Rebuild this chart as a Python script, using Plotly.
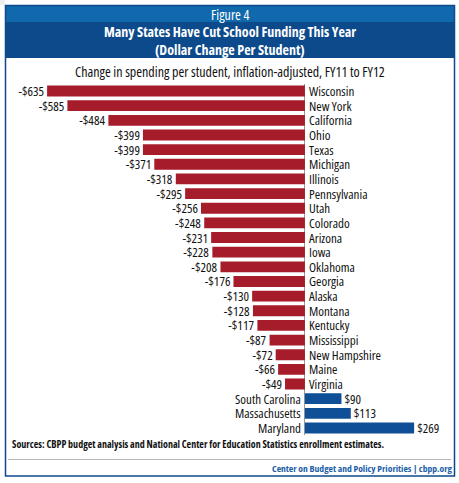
import plotly.graph_objects as go

states = ["Wisconsin", "New York", "California", "Ohio", "Texas", "Michigan", "Illinois",
          "Pennsylvania", "Utah", "Colorado", "Arizona", "Iowa", "Oklahoma", "Georgia",
          "Alaska", "Montana", "Kentucky", "Mississippi", "New Hampshire", "Maine",
          "Virginia", "South Carolina", "Massachusetts", "Maryland"]
values = [-635, -585, -484, -399, -399, -371, -318, -295, -256, -248, -231, -228, -208,
          -176, -130, -128, -117, -87, -72, -66, -49, 90, 113, 269]

W, H = 459, 483
RED = "#a61c2a"
BLUE = "#0e4f97"
HEAD1 = "#1169ad"
HEAD2 = "#0d4a8b"
FONT = "Open Sans"

def py(p):
    return 1 - p / H

def px(p):
    return p / W

labels = [f"-${abs(v)}" if v < 0 else f"${v}" for v in values]
colors = [RED if v < 0 else BLUE for v in values]

fig = go.Figure(go.Bar(
    x=values, y=states, orientation="h",
    marker=dict(color=colors, line=dict(width=0)),
    width=0.74,
    text=labels, textposition="outside", cliponaxis=False, constraintext="none",
    textfont=dict(family=FONT, size=13, color="#111111", weight=500),
))

annotations = []
for s, v in zip(states, values):
    annotations.append(dict(
        x=0, y=s, xref="x", yref="y", text=s, showarrow=False,
        xanchor="left" if v < 0 else "right", xshift=2 if v < 0 else -2,
        font=dict(family=FONT, size=13, color="#111111", weight=500),
    ))

annotations += [
    dict(x=0.5, y=py(14), xref="paper", yref="paper", text="Figure 4", showarrow=False,
         font=dict(family=FONT, size=14, color="white"), xanchor="center", yanchor="middle"),
    dict(x=0.5, y=py(31), xref="paper", yref="paper",
         text="<b>Many States Have Cut School Funding This Year</b>", showarrow=False,
         font=dict(family=FONT, size=14, color="white"), xanchor="center", yanchor="middle"),
    dict(x=0.5, y=py(49), xref="paper", yref="paper",
         text="<b>(Dollar Change Per Student)</b>", showarrow=False,
         font=dict(family=FONT, size=14, color="white"), xanchor="center", yanchor="middle"),
    dict(x=0.5, y=py(71), xref="paper", yref="paper",
         text="Change in spending per student, inflation-adjusted, FY11 to FY12", showarrow=False,
         font=dict(family=FONT, size=14, color="#111111", weight=500), xanchor="center", yanchor="middle"),
    dict(x=px(10), y=py(444), xref="paper", yref="paper",
         text="<b>Sources: CBPP budget analysis and National Center for Education Statistics enrollment estimates.</b>",
         showarrow=False, font=dict(family=FONT, size=10, color="#111111"),
         xanchor="left", yanchor="middle"),
    dict(x=px(454), y=py(468), xref="paper", yref="paper",
         text="<b>Center on Budget and Policy Priorities | cbpp.org</b>",
         showarrow=False, font=dict(family=FONT, size=9.6, color="#1a5ea8"),
         xanchor="right", yanchor="middle"),
]

shapes = [
    dict(type="rect", xref="paper", yref="paper", x0=0, x1=px(5), y0=py(5), y1=1,
         fillcolor="#f0f0f0", line=dict(width=0), layer="below"),
    dict(type="rect", xref="paper", yref="paper", x0=px(5), x1=px(455), y0=py(5), y1=py(22),
         fillcolor=HEAD1, line=dict(width=0), layer="below"),
    dict(type="rect", xref="paper", yref="paper", x0=px(5), x1=px(455), y0=py(22), y1=py(58),
         fillcolor=HEAD2, line=dict(width=0), layer="below"),
    dict(type="rect", xref="paper", yref="paper", x0=px(5.5), x1=px(454.5), y0=py(5.5), y1=py(476),
         fillcolor="rgba(0,0,0,0)", line=dict(color=HEAD2, width=1.5)),
    dict(type="line", xref="paper", yref="paper", x0=px(8), x1=px(451), y0=py(459.5), y1=py(459.5),
         line=dict(color="#b8b8b8", width=1)),
]

fig.update_layout(
    width=W, height=H,
    margin=dict(l=0, r=0, t=0, b=0),
    paper_bgcolor="white", plot_bgcolor="rgba(0,0,0,0)",
    showlegend=False,
    bargap=0.26,
    xaxis=dict(range=[-751, 379.5], domain=[0, 1], showgrid=False, showticklabels=False,
               zeroline=True, zerolinecolor="#9a9a9a", zerolinewidth=1, fixedrange=True),
    yaxis=dict(domain=[py(435.3), py(83.7)], range=[23.5, -0.5], showgrid=False,
               showticklabels=False, zeroline=False, fixedrange=True),
    annotations=annotations,
    shapes=shapes,
)

# Condensed rendering: apply font-stretch via a stylesheet, then re-plot so that text
# measurement uses the condensed widths.
post = """
var gd = document.getElementById('{plot_id}');
var s = document.createElement('style');
s.textContent = 'body{margin:0;padding:0;overflow:hidden} text{font-stretch:condensed}';
document.head.appendChild(s);
var d = JSON.parse(JSON.stringify(gd.data).split('Open Sans').join('Open Sans, sans-serif'));
var l = JSON.parse(JSON.stringify(gd.layout).split('Open Sans').join('Open Sans, sans-serif'));
Plotly.newPlot(gd, d, l, {displayModeBar: false, staticPlot: true});
"""

fig.write_html("out.html", post_script=post, config={"displayModeBar": False, "staticPlot": True})
